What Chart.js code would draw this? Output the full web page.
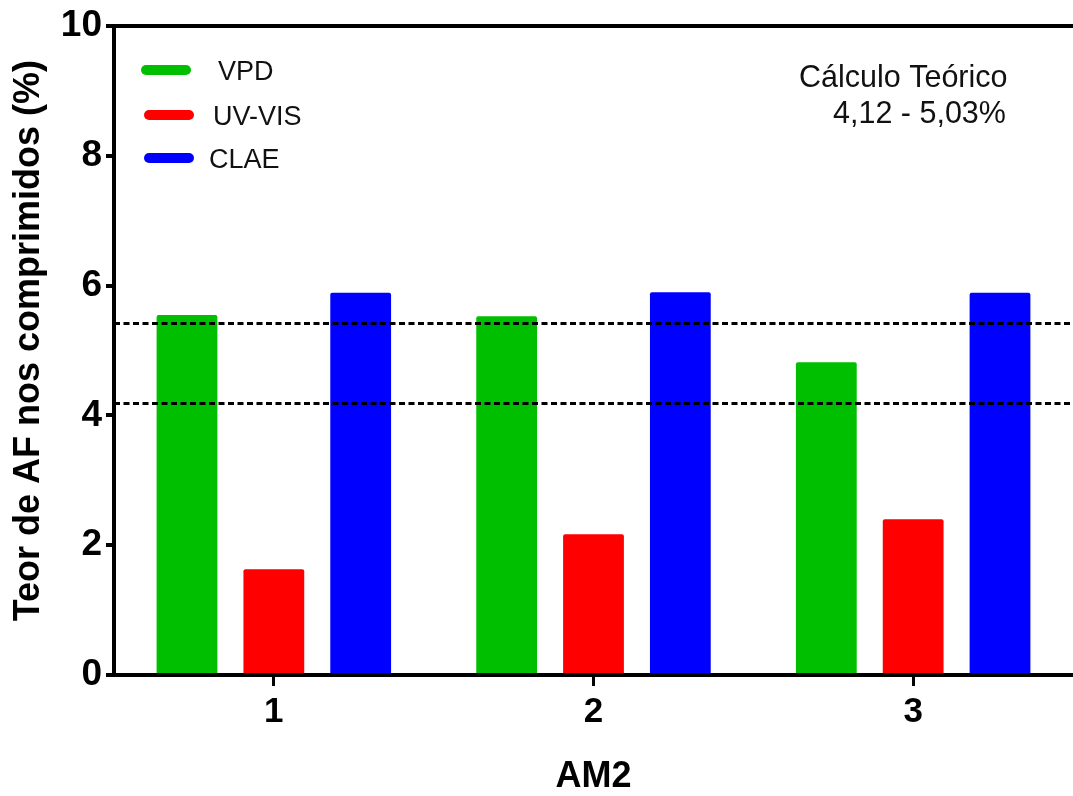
<!DOCTYPE html>
<html>
<head>
<meta charset="utf-8">
<script src="https://cdn.jsdelivr.net/npm/chart.js@4"></script>
<style>
  html, body { margin: 0; padding: 0; background: #fff; }
  #wrap { width: 1073px; height: 796px; }
</style>
</head>
<body>
<div id="wrap"><canvas id="chart"></canvas></div>
<script>
const categories = ['1', '2', '3'];
const seriesNames = ['VPD', 'UV-VIS', 'CLAE'];
const vpd = [5.55, 5.53, 4.82];
const uvVis = [1.63, 2.17, 2.40];
const clae = [5.89, 5.90, 5.89];
const refLines = [4.19, 5.43];
const noteLines = ['Cálculo Teórico', '4,12 - 5,03%'];

const colors = ['#00bf00', '#ff0000', '#0000ff'];
const FONT = '"Liberation Sans", Arial, sans-serif';

// dotted reference lines across the plot
const refLinePlugin = {
  id: 'refLines',
  afterDatasetsDraw(chart) {
    const { ctx, chartArea, scales } = chart;
    ctx.save();
    ctx.strokeStyle = '#000';
    ctx.lineWidth = 3;
    ctx.setLineDash([6, 3.5]);
    refLines.forEach(v => {
      const y = Math.round(scales.y.getPixelForValue(v)) + 0.5;
      ctx.beginPath();
      ctx.moveTo(chartArea.left, y);
      ctx.lineTo(chartArea.right, y);
      ctx.stroke();
    });
    ctx.restore();
  }
};

// legend inside the plot + note text
const legendPlugin = {
  id: 'insideLegend',
  afterDraw(chart) {
    const { ctx } = chart;
    const rows = [
      { y: 70, x0: 141, text: 218 },
      { y: 115, x0: 144, text: 213 },
      { y: 158, x0: 144, text: 209 }
    ];
    ctx.save();
    ctx.lineCap = 'round';
    ctx.lineWidth = 10;
    ctx.font = '27px ' + FONT;
    ctx.textBaseline = 'middle';
    ctx.fillStyle = '#111';
    chart.data.datasets.forEach((ds, i) => {
      const r = rows[i];
      ctx.strokeStyle = ds.backgroundColor;
      ctx.beginPath();
      ctx.moveTo(r.x0 + 5, r.y);
      ctx.lineTo(r.x0 + 45, r.y);
      ctx.stroke();
      ctx.fillText(ds.label, r.text, r.y + 3);
    });

    ctx.font = '30.5px ' + FONT;
    ctx.textBaseline = 'alphabetic';
    ctx.fillText(noteLines[0], 799, 87);
    ctx.fillText(noteLines[1], 833, 123);
    ctx.restore();
  }
};

new Chart(document.getElementById('chart'), {
  type: 'bar',
  data: {
    labels: categories,
    datasets: [
      { label: seriesNames[0], data: vpd, backgroundColor: colors[0] },
      { label: seriesNames[1], data: uvVis, backgroundColor: colors[1] },
      { label: seriesNames[2], data: clae, backgroundColor: colors[2] }
    ]
  },
  options: {
    responsive: true,
    maintainAspectRatio: false,
    animation: false,
    devicePixelRatio: 1,
    layout: { padding: 0 },
    datasets: {
      bar: { categoryPercentage: 0.815, barPercentage: 0.70, borderRadius: 2, borderSkipped: 'bottom' }
    },
    plugins: {
      legend: { display: false },
      tooltip: { enabled: false }
    },
    scales: {
      x: {
        position: 'bottom',
        grid: { offset: false, drawOnChartArea: false, color: '#000', lineWidth: 3, tickLength: 11 },
        border: { color: '#000', width: 4 },
        ticks: { color: '#000', padding: 5, font: { family: FONT, size: 35, weight: 'bold' } },
        title: {
          display: true, text: 'AM2', color: '#000',
          font: { family: FONT, size: 36, weight: 'bold' },
          padding: { top: 0, bottom: -3 }
        },
        afterFit(scale) { scale.height = 121; }
      },
      x2: {
        type: 'category',
        position: 'top',
        labels: categories,
        grid: { display: false },
        ticks: { display: false },
        border: { color: '#000', width: 4 },
        afterFit(scale) { scale.height = 25; }
      },
      y: {
        min: 0,
        max: 10,
        ticks: { stepSize: 2, color: '#000', padding: 4, font: { family: FONT, size: 37, weight: 'bold' } },
        grid: { drawOnChartArea: false, color: '#000', lineWidth: 4, tickLength: 8 },
        border: { color: '#000', width: 4 },
        title: {
          display: true, text: '  Teor de AF nos comprimidos (%)', color: '#000',
          font: { family: FONT, size: 36, weight: 'bold' },
          padding: { top: 7, bottom: 0 }
        },
        afterFit(scale) { scale.width = 114; }
      }
    }
  },
  plugins: [refLinePlugin, legendPlugin]
});
</script>
</body>
</html>
